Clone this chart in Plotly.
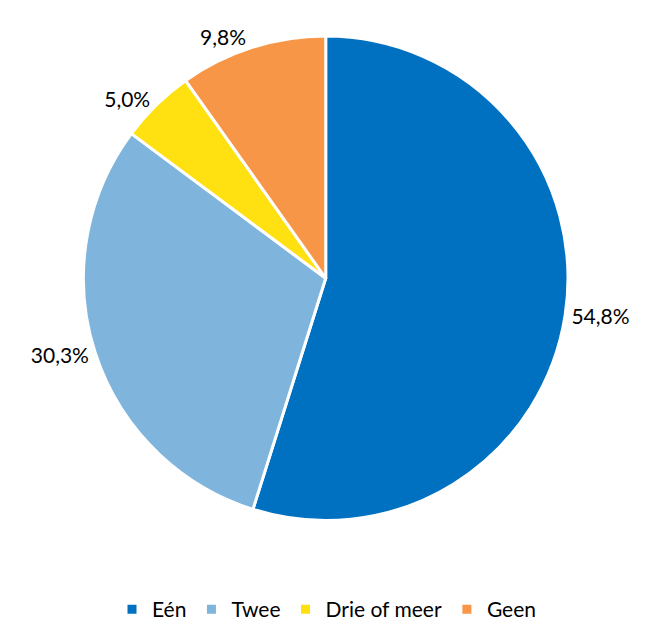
import plotly.graph_objects as go

categories = ["Eén", "Twee", "Drie of meer", "Geen"]
values = [54.8, 30.3, 5.0, 9.8]
colors = ["#0070C0", "#7FB5DC", "#FFE010", "#F79646"]
labels_text = ["54,8%", "30,3%", "5,0%", "9,8%"]

fig = go.Figure(go.Pie(
    labels=categories,
    values=values,
    text=labels_text,
    textinfo="text",
    textposition="outside",
    sort=False,
    direction="clockwise",
    rotation=0,
    marker=dict(colors=colors, line=dict(color="white", width=3)),
    textfont=dict(family="Lato", size=21, color="black"),
    domain=dict(x=[0, 0.995], y=[0.176, 0.955]),
    showlegend=True,
))

fig.update_layout(
    width=645, height=622,
    margin=dict(l=0, r=0, t=0, b=0),
    paper_bgcolor="white",
    plot_bgcolor="white",
    legend=dict(orientation="h", x=0.5, xanchor="center", y=0.0, yanchor="bottom",
                font=dict(family="Lato", size=21, color="black")),
)

fig.write_html("out.html")
